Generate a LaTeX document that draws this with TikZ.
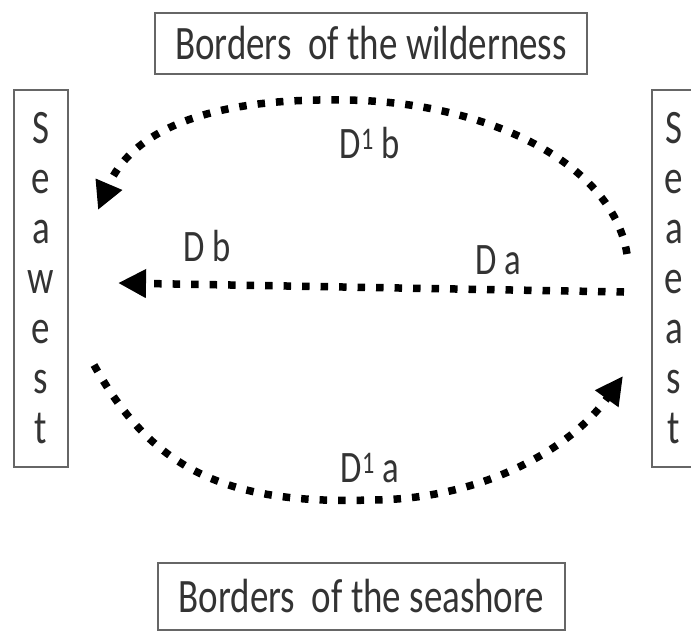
\documentclass[tikz,border=0pt]{standalone}
\usepackage{fontspec}
\setmainfont{Carlito}[FakeStretch=0.77]
\usetikzlibrary{arrows.meta}
\definecolor{txt}{HTML}{333333}
\definecolor{frame}{HTML}{666666}
\begin{document}
\begin{tikzpicture}[x=1pt,y=-1pt,
  box/.style={draw=frame,line width=2pt,inner sep=0pt,text=txt,font=\fontsize{48}{50}\selectfont},
  lbl/.style={text=txt,font=\fontsize{45}{47}\selectfont,inner sep=0pt},
  flow/.style={line width=7.5pt,dash pattern=on 7.5pt off 11pt,-{Triangle[length=28pt,width=27pt]}}]
\useasboundingbox (0,0) rectangle (691,632);
\clip (0,0) rectangle (691,632);
\node[box,minimum width=432pt,minimum height=61pt] (wild) at (371,43) {Borders\ \ of the wilderness};
\node[box,minimum width=407pt,minimum height=67pt] (shore) at (361.5,596.5) {Borders\ \ of the seashore};
\node[box,minimum width=54pt,minimum height=377pt,align=center] (west) at (41,278.5) {S\\e\\a\\w\\e\\s\\t};
\node[box,minimum width=44pt,minimum height=377pt,align=center] (east) at (674,278.5) {S\\e\\a\\e\\a\\s\\t};
\coordinate (t0) at (627,254);
\coordinate (tp) at (340,100);
\coordinate (t1) at (98,210);
\coordinate (m0) at (624,292);
\coordinate (m1) at (118,283);
\coordinate (b0) at (94,365);
\coordinate (bp) at (370,500);
\coordinate (b1) at (623,376);
\draw[flow] (t0) .. controls (612,160) and (480,100) .. (tp) .. controls (200,98) and (130,135) .. (t1);
\draw[flow] (m0) -- (m1);
\draw[flow] (b0) .. controls (150,465) and (220,505) .. (bp) .. controls (480,500) and (570,450) .. (b1);
\node[lbl] (l1) at (370,143) {D\textsuperscript{1} b};
\node[lbl] (l2) at (207,246) {D b};
\node[lbl] (l3) at (498,260) {D a};
\node[lbl] (l4) at (370,468) {D\textsuperscript{1} a};
\end{tikzpicture}
\end{document}
